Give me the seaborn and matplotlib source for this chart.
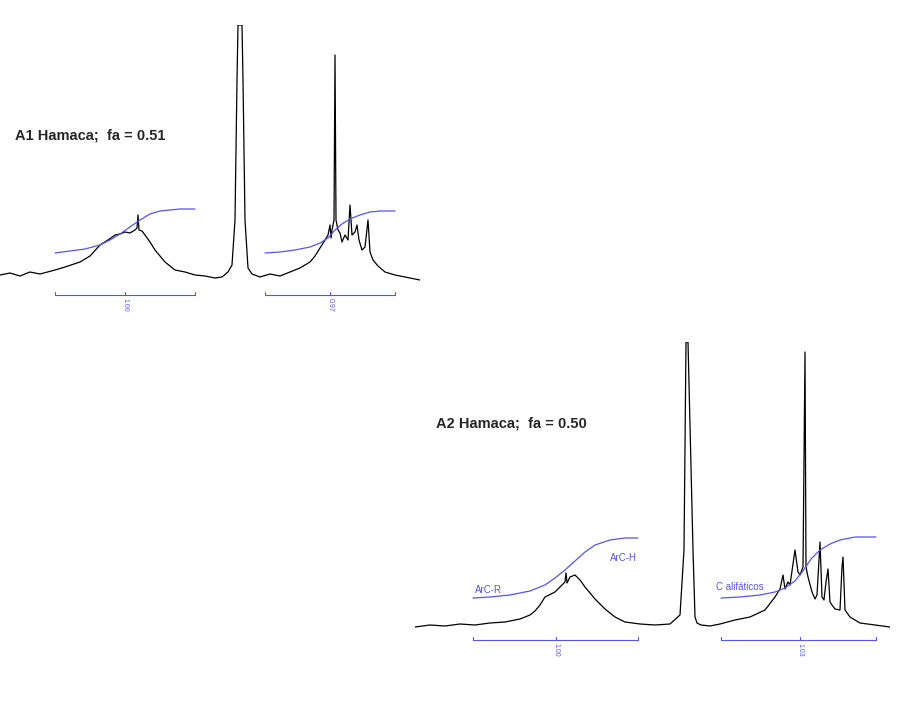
import numpy as np
import pandas as pd
import matplotlib
matplotlib.use("Agg")
import matplotlib.pyplot as plt
import seaborn as sns

sns.set_style("white")
plt.rcParams['font.family'] = ['Liberation Sans', 'DejaVu Sans']

# ---- Panel A1 (x position, height above baseline) ----
a1_x = [0, 10, 20, 30, 40, 55, 65, 80, 90, 100, 108, 115, 120, 125, 130, 135, 137, 138, 139, 142, 145, 150, 155, 160, 165, 170, 175, 185, 195, 205, 215, 222, 228, 232, 235, 237, 238, 242, 243, 245, 248, 252, 260, 270, 280, 290, 300, 310, 315, 320, 325, 328, 330, 331, 332, 334, 335, 336, 338, 340, 342, 345, 348, 350, 352, 355, 357, 359, 362, 365, 368, 370, 373, 378, 385, 395, 405, 420]
a1_h = [5, 7, 4, 8, 6, 10, 13, 18, 24, 35, 40, 45, 46, 48, 47, 50, 52, 65, 50, 49, 45, 38, 30, 24, 18, 14, 10, 8, 5, 4, 2, 3, 8, 15, 60, 200, 255, 255, 200, 60, 12, 6, 3, 6, 4, 8, 12, 18, 24, 32, 40, 45, 55, 42, 50, 60, 225, 60, 50, 47, 38, 45, 40, 75, 45, 48, 55, 40, 30, 33, 60, 28, 20, 14, 8, 5, 3, 0]
a1_int1_x = [55, 70, 85, 100, 110, 120, 130, 140, 150, 160, 170, 180, 195]
a1_int1_h = [27, 29, 31, 35, 40, 46, 53, 60, 66, 69, 70, 71, 71]
a1_int2_x = [265, 280, 295, 310, 320, 328, 335, 342, 350, 360, 370, 380, 395]
a1_int2_h = [27, 28, 30, 33, 37, 42, 50, 56, 61, 65, 68, 69, 69]

# ---- Panel A2 ----
a2_x = [0, 15, 30, 45, 60, 75, 90, 105, 115, 120, 125, 130, 140, 145, 150, 151, 152, 155, 160, 165, 170, 180, 190, 200, 210, 225, 240, 255, 265, 269, 271, 273, 278, 280, 282, 286, 295, 305, 320, 335, 350, 360, 365, 368, 370, 373, 375, 380, 383, 385, 388, 390, 391, 393, 397, 400, 402, 405, 407, 409, 411, 413, 415, 417, 420, 425, 427, 428, 430, 435, 445, 460, 475]
a2_h = [0, 2, 1, 3, 2, 4, 5, 8, 12, 16, 22, 30, 35, 40, 45, 54, 44, 50, 52, 47, 40, 28, 18, 10, 5, 3, 2, 3, 12, 77, 285, 285, 77, 10, 4, 2, 1, 3, 7, 10, 17, 30, 38, 52, 38, 45, 42, 77, 55, 52, 60, 275, 60, 50, 35, 28, 32, 85, 30, 27, 45, 58, 25, 22, 18, 17, 60, 70, 17, 10, 4, 2, 0]
a2_int1_x = [58, 75, 95, 115, 130, 140, 150, 160, 170, 180, 195, 210, 223]
a2_int1_h = [29, 30, 32, 36, 42, 49, 57, 66, 75, 82, 87, 89, 89]
a2_int2_x = [306, 325, 345, 360, 370, 380, 388, 396, 405, 415, 425, 440, 461]
a2_int2_h = [29, 30, 32, 35, 39, 46, 56, 68, 77, 83, 87, 90, 90]

# integral brackets: (start, centre, end, label)
a1_brackets = [(55, 125, 195, "1.00"), (265, 330, 395, "0.97")]
a2_brackets = [(58, 141, 223, "1.00"), (306, 385, 461, "1.03")]

BLUE = "#5555ee"
fig = plt.figure(figsize=(9.15, 7.05), dpi=100)
W, H = 915, 705

def panel(box, xlim, ylim, sx, sh, ints, brackets, by):
    x0, y0, x1, y1 = box
    ax = fig.add_axes([x0 / W, 1 - y1 / H, (x1 - x0) / W, (y1 - y0) / H])
    sns.lineplot(x=sx, y=sh, sort=False, ax=ax, color="black", lw=0.9, estimator=None)
    for ix, ih in ints:
        sns.lineplot(x=ix, y=ih, sort=False, ax=ax, color=BLUE, lw=0.9, estimator=None)
    for s, c, e, lab in brackets:
        ax.plot([s, e], [by, by], color=BLUE, lw=0.8, clip_on=False)
        for t in (s, c, e):
            ax.plot([t, t], [by, by + 3], color=BLUE, lw=0.8, clip_on=False)
        ax.text(c, by - 3, lab, rotation=270, ha="center", va="top",
                fontsize=5, color=BLUE, clip_on=False)
    ax.set_xlim(*xlim)
    ax.set_ylim(*ylim)
    ax.axis("off")
    return ax

ax1 = panel((0, 25, 420, 300), (0, 420), (-20, 255), a1_x, a1_h,
            [(a1_int1_x, a1_int1_h), (a1_int2_x, a1_int2_h)], a1_brackets, -15)
ax2 = panel((415, 342, 890, 660), (0, 475), (-33, 285), a2_x, a2_h,
            [(a2_int1_x, a2_int1_h), (a2_int2_x, a2_int2_h)], a2_brackets, -13)

ax2.text(60, 34, "ArC-R", color=BLUE, fontsize=7)
ax2.text(195, 66, "ArC-H", color=BLUE, fontsize=7)
ax2.text(301, 37, "C alifáticos", color=BLUE, fontsize=7)

fig.text(15 / W, 1 - 135 / H, "A1 Hamaca;  fa = 0.51", fontsize=10.5, fontweight="bold", va="center")
fig.text(436 / W, 1 - 424 / H, "A2 Hamaca;  fa = 0.50", fontsize=10.5, fontweight="bold", va="center")

fig.savefig("out.png", dpi=100, facecolor="white")
